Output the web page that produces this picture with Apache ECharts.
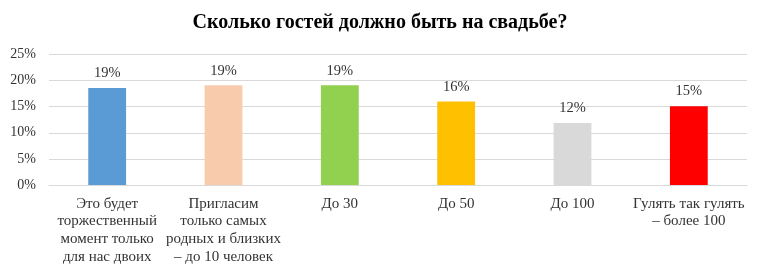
<!DOCTYPE html>
<html><head><meta charset="utf-8">
<script src="https://cdn.jsdelivr.net/npm/echarts@6/dist/echarts.min.js"></script>
<style>html,body{margin:0;padding:0;background:#fff}#c{width:760px;height:270px}</style>
</head><body><div id="c"></div>
<script>
const categories = ["Это будет\nторжественный\nмомент только\nдля нас двоих","Пригласим\nтолько самых\nродных и близких\n– до 10 человек","До 30","До 50","До 100","Гулять так гулять\n– более 100"];
const values = [18.6, 19.1, 19.1, 16.0, 11.9, 15.1];
const labels = ["19%","19%","19%","16%","12%","15%"];
const colors = ["#5B9BD5","#F8CBAD","#92D050","#FFC000","#D9D9D9","#FF0000"];
const font = "'Liberation Serif','Times New Roman',serif";
const chart = echarts.init(document.getElementById('c'));
chart.setOption({
  animation:false,
  title:{text:"Сколько гостей должно быть на свадьбе?",left:'center',top:8,
    textStyle:{fontFamily:font,fontSize:20,fontWeight:'bold',color:'#000'}},
  grid:{left:49,right:13,top:54.5,bottom:85},
  xAxis:{type:'category',data:categories,
    axisLine:{lineStyle:{color:'#D9D9D9'}},axisTick:{show:false},
    axisLabel:{interval:0,margin:10,fontFamily:font,fontSize:15,color:'#333',lineHeight:17.7}},
  yAxis:{type:'value',min:0,max:25,interval:5,
    splitLine:{lineStyle:{color:'#D9D9D9'}},
    axisLabel:{formatter:'{value}%',fontFamily:font,fontSize:14,color:'#333',margin:13}},
  series:[{type:'bar',barWidth:'32.5%',
    data:values.map((v,i)=>({value:v,itemStyle:{color:colors[i]}})),
    label:{show:true,position:'top',distance:7,formatter:p=>labels[p.dataIndex],
      fontFamily:font,fontSize:14.5,color:'#333'}}]
});
</script></body></html>
